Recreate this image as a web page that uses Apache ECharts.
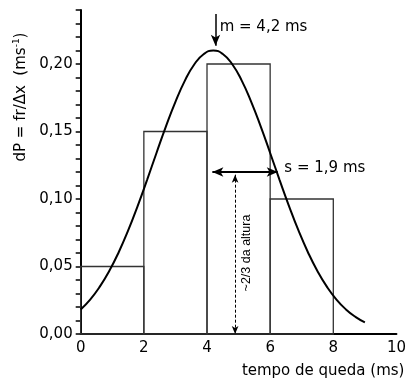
<!DOCTYPE html>
<html>
<head>
<meta charset="utf-8">
<script src="https://cdn.jsdelivr.net/npm/echarts@6/dist/echarts.min.js"></script>
<style>html,body{margin:0;padding:0;background:#fff;}#c{width:409px;height:379px;}</style>
</head>
<body>
<div id="c"></div>
<script>
// Histogram bins: [start, end, height]
var binStarts = [0, 2, 4, 6];
var binEnds = [2, 4, 6, 8];
var binHeights = [0.05, 0.15, 0.20, 0.10];
// Fitted curve
var curveX = [0, 0.3, 0.6, 0.9, 1.2, 1.5, 1.8, 2.1, 2.4, 2.7, 3.0, 3.3, 3.6, 3.9, 4.2,
              4.5, 4.8, 5.1, 5.4, 5.7, 6.0, 6.3, 6.6, 6.9, 7.2, 7.5, 7.8, 8.1, 8.4, 8.7, 9.0];
var curveY = [0.0182, 0.0255, 0.0349, 0.0465, 0.0604, 0.0765, 0.0946, 0.1140, 0.1341, 0.1538, 0.1720, 0.1877, 0.1998, 0.2074, 0.2100,
              0.2074, 0.1998, 0.1877, 0.1720, 0.1538, 0.1341, 0.1140, 0.0946, 0.0765, 0.0604, 0.0465, 0.0349, 0.0255, 0.0182, 0.0127, 0.0086];
var xTicks = [0, 2, 4, 6, 8, 10];
var yTickLabels = ['0,00', '0,05', '0,10', '0,15', '0,20'];

var chart = echarts.init(document.getElementById('c'));
var font = 'DejaVu Sans';
var histData = binStarts.map(function (s, i) { return [s, binEnds[i], binHeights[i]]; });
var curveData = curveX.map(function (x, i) { return [x, curveY[i]]; });

chart.setOption({
  animation: false,
  backgroundColor: '#fff',
  grid: { left: 80.7, right: 6.3, top: 10, bottom: 45 },
  xAxis: {
    type: 'value', min: 0, max: 10, interval: 2,
    axisLine: { lineStyle: { color: '#000', width: 2 } },
    axisTick: { show: false },
    splitLine: { show: false },
    axisLabel: { color: '#000', fontFamily: font, fontSize: 15, margin: 7,
      formatter: function (v) { return xTicks.indexOf(v) >= 0 ? String(v) : ''; } },
    name: 'tempo de queda (ms)', nameLocation: 'end', nameGap: 8,
    nameTextStyle: { color: '#000', fontFamily: font, fontSize: 15, align: 'right', verticalAlign: 'top', padding: [30, 0, 0, 0] }
  },
  yAxis: {
    type: 'value', min: 0, max: 0.24, interval: 0.01,
    axisLine: { show: true, lineStyle: { color: '#000', width: 2 } },
    axisTick: { show: true, length: 5, lineStyle: { color: '#000', width: 1.5 } },
    splitLine: { show: false },
    axisLabel: { color: '#000', fontFamily: font, fontSize: 15, margin: 8, interval: 0,
      formatter: function (v) {
        var k = Math.round(v * 100);
        if (k % 5 === 0 && k / 5 < yTickLabels.length) return yTickLabels[k / 5];
        return '';
      } },
    name: '{a|dP = fr/Δx  (ms}{b|-1}{a|)}', nameLocation: 'middle', nameGap: 51, nameRotate: 90,
    nameTextStyle: { padding: [0, 0, 0, 150],
      rich: { a: { color: '#000', fontFamily: font, fontSize: 15 },
              b: { color: '#000', fontFamily: font, fontSize: 9, verticalAlign: 'top', padding: [0, 0, 8, 0] } } }
  },
  series: [
    {
      type: 'custom',
      data: histData,
      encode: { x: [0, 1], y: 2 },
      renderItem: function (params, api) {
        var p0 = api.coord([api.value(0), api.value(2)]);
        var p1 = api.coord([api.value(1), 0]);
        return { type: 'rect', shape: { x: p0[0], y: p0[1], width: p1[0] - p0[0], height: p1[1] - p0[1] },
          style: { fill: 'none', stroke: '#333', lineWidth: 1.3 } };
      },
      z: 1
    },
    {
      type: 'line', data: curveData, smooth: 0.5, showSymbol: false,
      lineStyle: { color: '#000', width: 2 }, z: 3,
      markLine: {
        silent: true, animation: false,
        label: { show: false },
        data: [
          [{ coord: [4.27, 0.237], symbol: 'none', lineStyle: { color: '#000', width: 1.5, type: 'solid' } },
           { coord: [4.27, 0.2135], symbol: 'arrow', symbolSize: [7, 11] }],
          [{ coord: [4.17, 0.12], symbol: 'arrow', symbolSize: [7, 11], lineStyle: { color: '#000', width: 2, type: 'solid' } },
           { coord: [6.24, 0.12], symbol: 'arrow', symbolSize: [7, 11] }],
          [{ coord: [4.89, 0.118], symbol: 'arrow', symbolSize: [5, 8], lineStyle: { color: '#000', width: 1, type: [3, 2] } },
           { coord: [4.89, 0.0], symbol: 'arrow', symbolSize: [5, 8] }]
        ]
      }
    }
  ]
});

function px(x, y) { return chart.convertToPixel({ gridIndex: 0 }, [x, y]); }
var pm = px(4.4, 0.2275), ps = px(6.45, 0.123), pr = px(5.26, 0.06);
chart.setOption({
  graphic: [
    { type: 'text', x: pm[0], y: pm[1], style: { text: 'm = 4,2 ms', fill: '#000', font: '15px "DejaVu Sans"', textVerticalAlign: 'middle', textAlign: 'left' } },
    { type: 'text', x: ps[0], y: ps[1], style: { text: 's = 1,9 ms', fill: '#000', font: '15px "DejaVu Sans"', textVerticalAlign: 'middle', textAlign: 'left' } },
    { type: 'text', x: pr[0], y: pr[1], rotation: Math.PI / 2, style: { text: '~2/3 da altura', fill: '#000', font: '12.5px "Liberation Sans"', textVerticalAlign: 'middle', textAlign: 'center' } }
  ]
});
</script>
</body>
</html>
